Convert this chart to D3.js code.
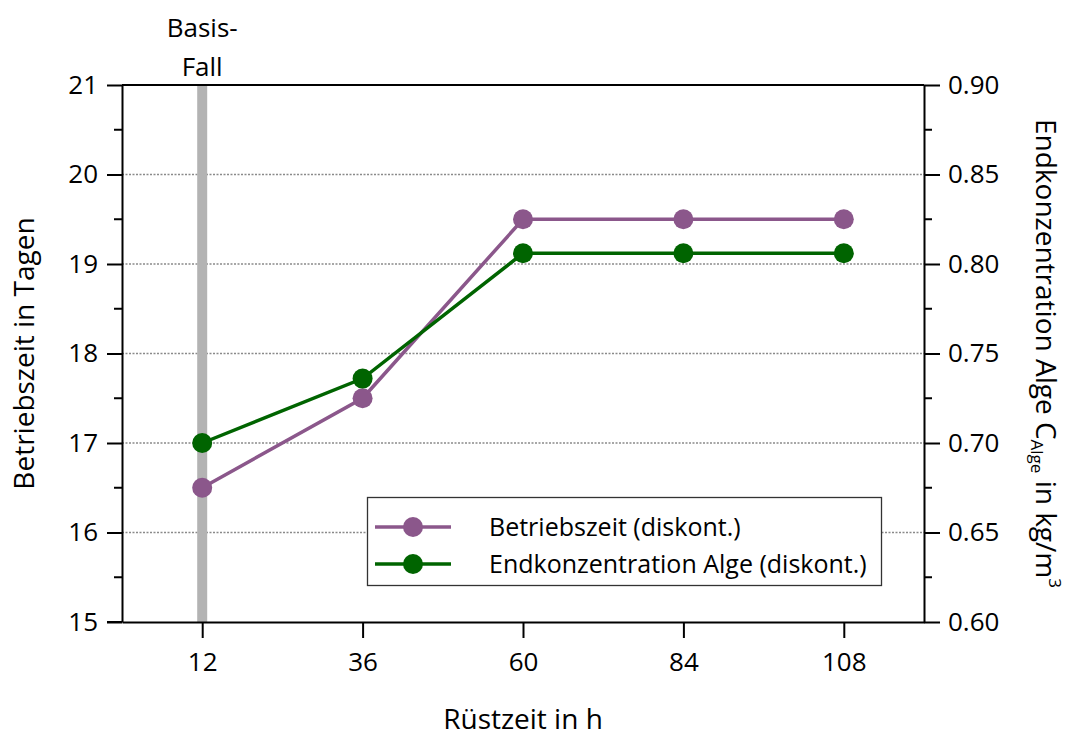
<!DOCTYPE html>
<html>
<head>
<meta charset="utf-8">
<script src="https://cdn.jsdelivr.net/npm/d3@7"></script>
<style>
  html, body { margin: 0; padding: 0; background: #fff; }
  svg text { font-family: "Open Sans", "Noto Sans", sans-serif; fill: #000; }
</style>
</head>
<body>
<svg id="chart" width="1070" height="738"></svg>
<script>
// Setup times (h) and the two discontinuous-operation results
const ruestzeit = [12, 36, 60, 84, 108];
const betriebszeit = [16.5, 17.5, 19.5, 19.5, 19.5];          // days
const endkonzentration = [0.700, 0.736, 0.806, 0.806, 0.806]; // kg/m^3

const leftTicks = [15, 16, 17, 18, 19, 20, 21];
const rightTicks = [0.60, 0.65, 0.70, 0.75, 0.80, 0.85, 0.90];
const basisFall = 12;

const seriesNames = ["Betriebszeit (diskont.)", "Endkonzentration Alge (diskont.)"];
const colors = ["#8b578b", "#006400"];

const svg = d3.select("#chart");
const L = 122, R = 924, T = 85, B = 622;

const x = d3.scaleLinear().domain([0, 120]).range([L, R]);
const yL = d3.scaleLinear().domain([15, 21]).range([B, T]);
const yR = d3.scaleLinear().domain([0.60, 0.90]).range([B, T]);

// dotted horizontal grid lines
svg.append("g").selectAll("line")
  .data(leftTicks.filter(d => d > 15 && d < 21))
  .join("line")
  .attr("x1", L).attr("x2", R)
  .attr("y1", d => yL(d)).attr("y2", d => yL(d))
  .attr("stroke", "#8a8a8a").attr("stroke-width", 1.3)
  .attr("stroke-dasharray", "2,1.5");

// reference case band
svg.append("line")
  .attr("x1", x(basisFall)).attr("x2", x(basisFall))
  .attr("y1", T).attr("y2", B)
  .attr("stroke", "#b3b3b3").attr("stroke-width", 10);

svg.append("text")
  .attr("x", x(basisFall)).attr("y", 37)
  .attr("text-anchor", "middle").attr("font-size", 26)
  .text("Basis-");
svg.append("text")
  .attr("x", x(basisFall)).attr("y", 76)
  .attr("text-anchor", "middle").attr("font-size", 26)
  .text("Fall");

// series
const series = [
  { vals: betriebszeit, y: yL, color: colors[0] },
  { vals: endkonzentration, y: yR, color: colors[1] }
];
series.forEach(s => {
  const pts = ruestzeit.map((t, i) => [x(t), s.y(s.vals[i])]);
  svg.append("path")
    .attr("d", d3.line()(pts))
    .attr("fill", "none").attr("stroke", s.color).attr("stroke-width", 3.5);
  svg.append("g").selectAll("circle").data(pts).join("circle")
    .attr("cx", d => d[0]).attr("cy", d => d[1]).attr("r", 10)
    .attr("fill", s.color);
});

// frame
svg.append("line").attr("x1", L).attr("x2", R).attr("y1", T).attr("y2", T)
  .attr("stroke", "#000").attr("stroke-width", 2);

// axes
const fs = 26;
const fsTitle = 28;
function styleAxis(g) {
  g.select(".domain").attr("stroke", "#000").attr("stroke-width", 2);
  g.selectAll(".tick line").attr("stroke", "#000").attr("stroke-width", 2);
  g.selectAll(".tick text").attr("font-size", fs).attr("font-family", null);
}

svg.append("g").attr("transform", `translate(0,${B})`)
  .call(d3.axisBottom(x).tickValues(ruestzeit).tickSize(16).tickPadding(15).tickSizeOuter(0))
  .call(styleAxis);
// bottom line continues through the major tick at 15
svg.append("line").attr("x1", L - 15).attr("x2", L).attr("y1", B).attr("y2", B)
  .attr("stroke", "#000").attr("stroke-width", 2);

const gl = svg.append("g").attr("transform", `translate(${L},0)`)
  .call(d3.axisLeft(yL).tickValues(leftTicks).tickFormat(d3.format("d")).tickSize(15).tickPadding(9).tickSizeOuter(0))
  .call(styleAxis);
gl.selectAll(".minor").data(d3.range(15.5, 21, 1)).join("line")
  .attr("x1", -8).attr("x2", 0)
  .attr("y1", d => yL(d)).attr("y2", d => yL(d))
  .attr("stroke", "#000").attr("stroke-width", 2);

const gr = svg.append("g").attr("transform", `translate(${R},0)`)
  .call(d3.axisRight(yR).tickValues(rightTicks).tickFormat(d3.format(".2f")).tickSize(16).tickPadding(8).tickSizeOuter(0))
  .call(styleAxis);
gr.selectAll(".minor").data(d3.range(0.625, 0.9, 0.05)).join("line")
  .attr("x1", 0).attr("x2", 8)
  .attr("y1", d => yR(d)).attr("y2", d => yR(d))
  .attr("stroke", "#000").attr("stroke-width", 2);

// axis titles
svg.append("text")
  .attr("x", (L + R) / 2).attr("y", 729)
  .attr("text-anchor", "middle").attr("font-size", fsTitle)
  .text("Rüstzeit in h");

svg.append("text")
  .attr("transform", `translate(34,${(T + B) / 2}) rotate(-90)`)
  .attr("text-anchor", "middle").attr("font-size", fsTitle)
  .text("Betriebszeit in Tagen");

const rt = svg.append("text")
  .attr("transform", `translate(1036,${(T + B) / 2}) rotate(90)`)
  .attr("text-anchor", "middle").attr("font-size", fsTitle);
rt.append("tspan").text("Endkonzentration Alge C");
rt.append("tspan").attr("font-size", 17).attr("dy", 5).text("Alge");
rt.append("tspan").attr("dy", -5).text(" in kg/m");
rt.append("tspan").attr("font-size", 17).attr("dy", -13).text("3");

// legend
const lg = svg.append("g");
lg.append("rect")
  .attr("x", 367.5).attr("y", 497.5).attr("width", 514).attr("height", 88)
  .attr("fill", "#fff").attr("stroke", "#333").attr("stroke-width", 1.3);
seriesNames.forEach((name, i) => {
  const cy = 527 + i * 37;
  lg.append("line").attr("x1", 375).attr("x2", 451).attr("y1", cy).attr("y2", cy)
    .attr("stroke", colors[i]).attr("stroke-width", 3.5);
  lg.append("circle").attr("cx", 413).attr("cy", cy).attr("r", 10).attr("fill", colors[i]);
  lg.append("text").attr("x", 489).attr("y", cy + 9).attr("font-size", 25).text(name);
});
</script>
</body>
</html>
